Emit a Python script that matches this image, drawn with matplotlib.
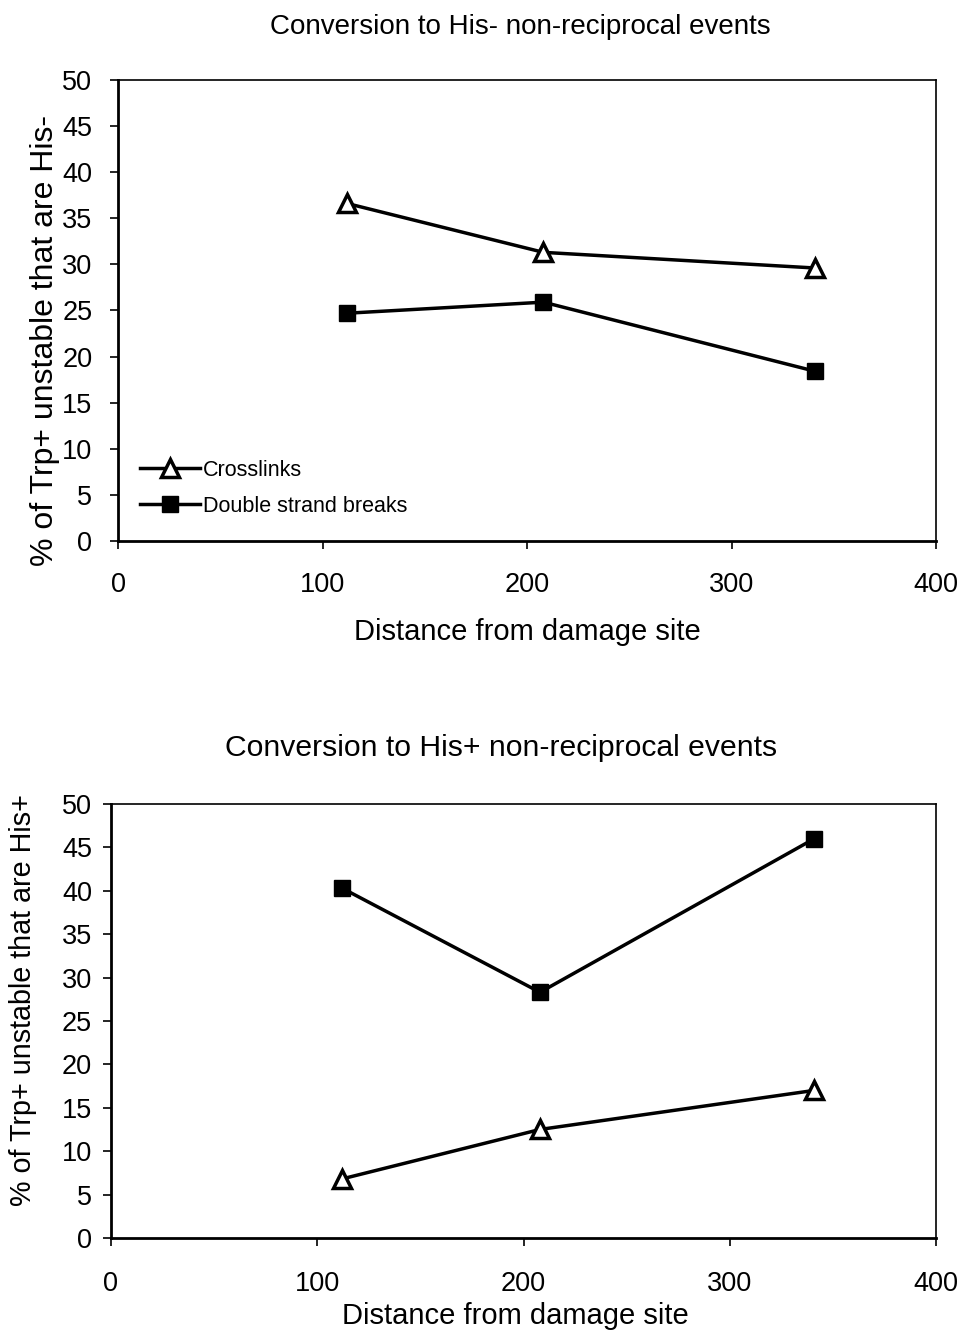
import matplotlib
matplotlib.use("Agg")
import matplotlib.pyplot as plt

plt.rcParams['font.family'] = ['Liberation Sans', 'DejaVu Sans']

distance = [112, 208, 341]
top_crosslinks = [36.6, 31.3, 29.6]
top_dsb = [24.7, 25.9, 18.4]
bot_crosslinks = [6.8, 12.5, 17.0]
bot_dsb = [40.3, 28.3, 46.0]

yticks = list(range(0, 51, 5))
xticks = [0, 100, 200, 300, 400]

fig = plt.figure(figsize=(9.65, 13.31), dpi=100)
ax1 = fig.add_axes([0.1223, 0.5935, 0.970 - 0.1223, 0.940 - 0.5935])
ax2 = fig.add_axes([0.115, 0.0699, 0.970 - 0.115, 0.396 - 0.0699])

def style(ax, ylabel, ylsize, xpad, ypad, xlab_xy, ylab_xy):
    ax.set_xlim(0, 400)
    ax.set_ylim(0, 50)
    ax.set_xticks(xticks)
    ax.set_yticks(yticks)
    ax.tick_params(axis='both', direction='out', length=6, width=1.2, labelsize=19.5)
    ax.tick_params(axis='x', pad=xpad)
    ax.tick_params(axis='y', pad=ypad)
    for s in ['left', 'bottom']:
        ax.spines[s].set_linewidth(2.0)
    for s in ['top', 'right']:
        ax.spines[s].set_linewidth(1.2)
    ax.set_ylabel(ylabel, fontsize=ylsize)
    ax.yaxis.label.set_va('center')
    ax.yaxis.label.set_ha('center')
    ax.yaxis.set_label_coords(*ylab_xy)
    ax.set_xlabel('Distance from damage site', fontsize=21)
    ax.xaxis.label.set_va('center')
    ax.xaxis.set_label_coords(*xlab_xy)

ax1.plot(distance, top_crosslinks, color='black', lw=2.5, marker='^', ms=13,
         mfc='white', mec='black', mew=2.5, label='Crosslinks')
ax1.plot(distance, top_dsb, color='black', lw=2.5, marker='s', ms=12,
         mfc='black', mec='black', label='Double strand breaks')
style(ax1, '% of Trp+ unstable that are His-', 23, 16, 12.5, (0.5, -0.197), (-0.089, 0.434))
ax1.legend(loc='lower left', bbox_to_anchor=(0.027, 0.053), frameon=False, fontsize=15.5,
           handlelength=2.8, handletextpad=0.1, labelspacing=0.7, borderpad=0,
           borderaxespad=0)

ax2.plot(distance, bot_crosslinks, color='black', lw=2.5, marker='^', ms=13,
         mfc='white', mec='black', mew=2.5)
ax2.plot(distance, bot_dsb, color='black', lw=2.5, marker='s', ms=12,
         mfc='black', mec='black')
style(ax2, '% of Trp+ unstable that are His+', 20.7, 17.5, 7.5, (0.49, -0.18), (-0.107, 0.548))

fig.text(0.539, 0.9797, 'Conversion to His- non-reciprocal events', fontsize=20,
         ha='center', va='center')
fig.text(0.519, 0.438, 'Conversion to His+ non-reciprocal events', fontsize=21.7,
         ha='center', va='center')

fig.savefig('out.png', dpi=100)
